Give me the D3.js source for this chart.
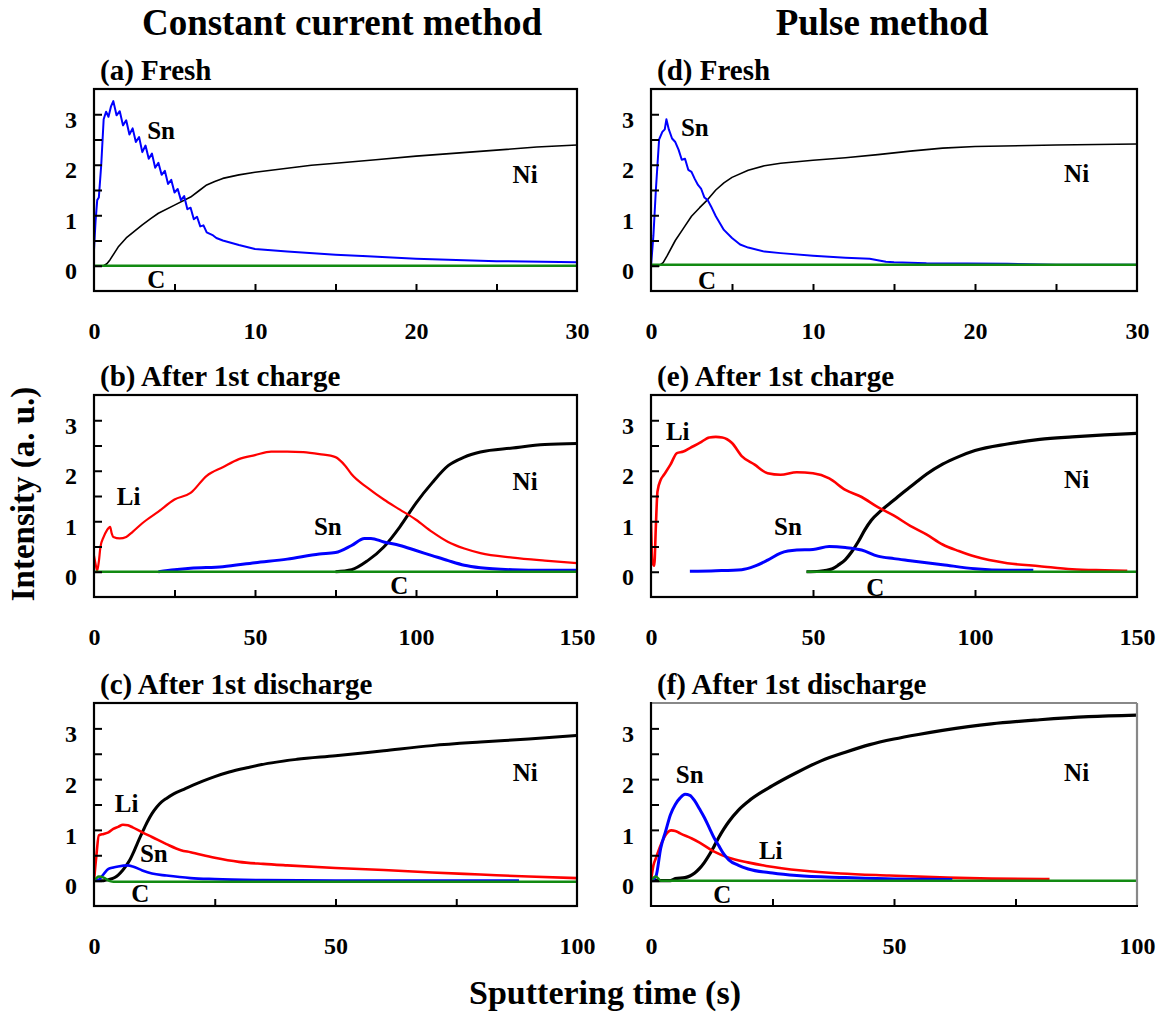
<!DOCTYPE html>
<html><head><meta charset="utf-8">
<script src="https://cdn.jsdelivr.net/npm/d3@7"></script>
<style>body{margin:0;background:#fff}svg{display:block}svg text{font-family:'Liberation Serif','Times New Roman',Times,serif !important;font-weight:bold}</style>
</head><body>
<script>
// ---------- DATA ----------
const yTicks = [0, 0.5, 1, 1.5, 2, 2.5, 3];
const yTickLabels = [0, 1, 2, 3];

// (a) Fresh — constant current
const aSn = [[0,0.32],[0.1,0.9],[0.2,1.3],[0.3,1.35],[0.45,2.0],[0.6,2.9],[0.75,3.05],[0.9,2.95],[1.05,3.15],[1.2,3.26],
 [1.4,2.98],[1.6,3.06],[1.8,2.78],[2.0,2.88],[2.2,2.60],[2.4,2.72],[2.6,2.45],[2.8,2.55],[3.0,2.25],[3.2,2.38],[3.4,2.12],
 [3.6,2.22],[3.8,1.94],[4.0,2.04],[4.2,1.80],[4.4,1.88],[4.6,1.62],[4.8,1.70],[5.0,1.45],[5.2,1.52],[5.4,1.30],[5.6,1.38],
 [5.8,1.12],[6.0,1.15],[6.2,0.92],[6.4,0.97],[6.6,0.78],[6.8,0.80],[7.0,0.66],[7.4,0.60],[7.6,0.55],[8,0.50],[9,0.41],
 [10,0.33],[12,0.28],[15,0.22],[17,0.19],[20,0.14],[22,0.12],[25,0.09],[30,0.07]];
const aNi = [[0,0],[0.6,0],[0.8,0.04],[1,0.12],[1.5,0.37],[2,0.55],[2.5,0.68],[3,0.81],[3.5,0.93],[4,1.04],[5,1.2],[6,1.36],
 [6.5,1.48],[7,1.6],[7.5,1.67],[8,1.73],[9,1.8],[10,1.85],[12,1.93],[13.5,1.99],[15,2.03],[17.5,2.1],[20,2.17],[22.5,2.23],
 [25,2.29],[27.5,2.35],[30,2.39]];
const aC = [[0,0],[30,0]];

// (b) After 1st charge — constant current
const bLi = [[0,0.32],[0.5,0.15],[1,0.02],[1.5,0.2],[2,0.49],[3,0.69],[4,0.82],[5,0.89],[5.5,0.76],[6,0.69],[8,0.66],[10,0.69],
 [12,0.79],[15,0.96],[20,1.19],[25,1.43],[30,1.56],[35,1.9],[40,2.07],[45,2.23],[50,2.31],[55,2.38],[60,2.38],[65,2.37],
 [70,2.33],[75,2.27],[78,2.1],[80,1.93],[85,1.66],[90,1.43],[95,1.23],[100,1.03],[105,0.79],[110,0.59],[115,0.46],[120,0.37],
 [130,0.28],[140,0.22],[150,0.17]];
const bSn = [[20,0],[25,0.04],[30,0.07],[40,0.1],[50,0.18],[60,0.25],[70,0.35],[75,0.38],[80,0.52],[84,0.66],[86,0.66],[90,0.59],
 [95,0.52],[100,0.42],[105,0.32],[110,0.22],[115,0.13],[120,0.08],[130,0.04],[140,0.03],[150,0.03]];
const bNi = [[75,0],[80,0.04],[85,0.22],[90,0.49],[95,0.89],[100,1.36],[105,1.76],[110,2.1],[115,2.27],[120,2.37],[130,2.45],
 [140,2.52],[150,2.54]];
const bC = [[0,0],[150,0]];

// (c) After 1st discharge — constant current
const cLi = [[0,0],[0.5,0.5],[1,0.89],[2,0.92],[3,0.95],[4,1.02],[5,1.06],[6,1.1],[7,1.09],[8,1.05],[10,0.95],[12,0.86],[15,0.72],
 [18,0.6],[20,0.56],[25,0.45],[30,0.37],[35,0.33],[40,0.3],[50,0.25],[60,0.21],[70,0.16],[80,0.12],[90,0.08],[100,0.05]];
const cSn = [[0,0],[1,0.02],[2,0.13],[3,0.23],[4,0.26],[5,0.28],[7,0.3],[8,0.28],[10,0.2],[12,0.14],[15,0.1],[20,0.05],[25,0.03],
 [35,0.01],[50,0],[88,0]];
const cNi = [[0,0],[2,0],[3,0.02],[4.3,0.06],[5,0.11],[5.9,0.2],[6.7,0.3],[7.5,0.42],[8.2,0.56],[9,0.74],[10,0.95],[11,1.15],
 [12,1.32],[13,1.45],[14,1.55],[15,1.62],[16.5,1.71],[18.6,1.8],[20.5,1.88],[22.5,1.96],[25,2.05],[28,2.14],[32,2.23],[36,2.31],
 [42,2.39],[50,2.46],[60,2.56],[70,2.66],[80,2.73],[90,2.79],[100,2.86]];
const cC = [[0,0],[0.5,0.05],[1,0.08],[2,0.06],[3,0],[4,-0.02],[100,-0.02]];

// (d) Fresh — pulse
const dSn = [[0,0],[0.15,0.6],[0.3,1.5],[0.5,2.5],[0.7,2.65],[0.85,2.7],[0.95,2.9],[1.1,2.7],[1.3,2.52],[1.5,2.45],[1.7,2.3],
 [1.9,2.1],[2.1,2.12],[2.3,1.9],[2.5,1.86],[2.7,1.72],[2.9,1.6],[3.1,1.52],[3.3,1.35],[3.5,1.3],[3.7,1.18],[4,0.98],[4.5,0.71],
 [5,0.55],[5.5,0.42],[6,0.36],[7,0.28],[8,0.25],[10,0.2],[12,0.16],[13.5,0.14],[14.5,0.08],[15,0.07],[17,0.05],[22,0.04],
 [25,0.02],[30,0.02]];
const dNi = [[0,0],[0.5,0],[0.75,0.06],[1,0.2],[1.5,0.5],[2,0.74],[2.5,0.98],[3,1.15],[3.5,1.31],[4,1.5],[4.5,1.64],[5,1.75],
 [6,1.89],[7,1.98],[8,2.03],[10,2.09],[12,2.14],[14,2.2],[16,2.27],[18,2.33],[20,2.36],[25,2.39],[30,2.41]];
const dC = [[0,0.02],[30,0.02]];

// (e) After 1st charge — pulse
const eLi = [[0,1.0],[0.4,0.2],[1,0.12],[1.5,0.9],[2,1.59],[3,1.82],[4,1.92],[6,2.12],[8,2.35],[10,2.38],[12,2.45],[15,2.55],
 [18,2.66],[20,2.67],[22,2.66],[25,2.55],[28,2.29],[32,2.12],[36,1.95],[40,1.92],[45,1.97],[50,1.95],[55,1.85],[60,1.62],
 [65,1.48],[70,1.28],[75,1.11],[80,0.91],[85,0.74],[90,0.54],[95,0.41],[100,0.30],[110,0.17],[120,0.11],[130,0.05],
 [140,0.03],[147,0.02]];
const eSn = [[12,0.01],[20,0.02],[28,0.04],[32,0.11],[36,0.23],[40,0.37],[45,0.43],[50,0.44],[55,0.5],[60,0.48],[65,0.43],
 [70,0.31],[75,0.26],[80,0.22],[90,0.14],[100,0.06],[110,0.03],[118,0.03]];
const eNi = [[48,0],[52,0.01],[56,0.06],[58,0.14],[60,0.24],[62,0.4],[64,0.6],[66,0.83],[68,1.02],[71,1.21],[75,1.42],[78,1.58],
 [82,1.78],[85,1.93],[90,2.13],[95,2.28],[100,2.4],[110,2.53],[120,2.62],[130,2.67],[140,2.71],[150,2.74]];
const eC = [[48,0],[150,0]];

// (f) After 1st discharge — pulse
const fSn = [[0,0],[1,0.08],[2,0.64],[3,0.97],[4,1.3],[5,1.5],[6,1.63],[7,1.7],[8,1.68],[9,1.57],[10,1.41],[11,1.24],[12,1.04],
 [13,0.84],[14,0.68],[15,0.52],[16,0.41],[18,0.3],[20,0.23],[25,0.15],[30,0.1],[40,0.06],[50,0.03],[62,0.02]];
const fLi = [[0,0],[0.5,0.3],[1,0.44],[2,0.7],[3,0.9],[4.2,0.99],[5,0.98],[6,0.93],[8.4,0.83],[10,0.75],[13,0.57],[16,0.45],
 [19.9,0.36],[23.7,0.29],[31,0.2],[39,0.14],[49,0.1],[61,0.06],[70,0.04],[82,0.03]];
const fNi = [[0,0],[4,0],[5,0.04],[7,0.06],[8,0.09],[9,0.15],[10,0.24],[11,0.36],[12,0.51],[13,0.68],[14,0.86],[15,1.02],[16,1.16],
 [18,1.39],[20,1.56],[25,1.87],[30,2.13],[35,2.36],[40,2.53],[45,2.68],[50,2.79],[55,2.88],[60,2.96],[70,3.09],[80,3.17],
 [90,3.23],[100,3.26]];
const fC = [[0,0],[1,0.08],[2,0],[100,0]];

// curve-label anchors in data units [text, x, y]
const aLabels = [["Sn",3.3,2.68],["Ni",26.0,1.8],["C",3.3,-0.28]];
const bLabels = [["Li",7.1,1.49],["Sn",68.3,0.89],["Ni",130,1.79],["C",92,-0.28]];
const cLabels = [["Li",4.3,1.52],["Sn",9.5,0.53],["Ni",86.7,2.13],["C",7.7,-0.26]];
const dLabels = [["Sn",1.85,2.73],["Ni",25.5,1.82],["C",2.9,-0.3]];
const eLabels = [["Li",4.6,2.78],["Sn",38,0.9],["Ni",127.5,1.83],["C",66.4,-0.32]];
const fLabels = [["Sn",5.1,2.1],["Li",22.2,0.6],["Ni",85,2.13],["C",12.8,-0.28]];

const titles = ["(a) Fresh","(b) After 1st charge","(c) After 1st discharge","(d) Fresh","(e) After 1st charge","(f) After 1st discharge"];
const xMaxes = [30,150,100,30,150,100];
const xTickMarks = [[5,10,15,20,25],[25,50,75,100,125],[25,50,75],[5,10,15,20,25],[50,100],[25,50,75]];
const xTickLabels = [[0,10,20,30],[0,50,100,150],[0,50,100],[0,10,20,30],[0,50,100,150],[0,50,100]];

// ---------- LAYOUT / STYLE ----------
const W = 1164, H = 1013;
const FONT = "'Liberation Serif','Times New Roman',Times,serif";
const COL = {Sn:"#0000ff", Ni:"#000000", Li:"#ff0000", C:"#128a12"};
const colX = [[94,577],[651,1137]];
const rowY = [[89,291],[395,597],[703,906]];

const panels = [
 {col:0,row:0,series:[["Ni",aNi,1.6],["Sn",aSn,2],["C",aC,2.5]],labels:aLabels,curve:d3.curveLinear},
 {col:0,row:1,series:[["Ni",bNi,3],["Li",bLi,2.2],["Sn",bSn,3],["C",bC,2.5]],labels:bLabels,curve:d3.curveMonotoneX},
 {col:0,row:2,series:[["Ni",cNi,3],["Li",cLi,2.6],["Sn",cSn,2.6],["C",cC,2.5]],labels:cLabels,curve:d3.curveMonotoneX},
 {col:1,row:0,series:[["Ni",dNi,1.6],["Sn",dSn,2],["C",dC,2.5]],labels:dLabels,curve:d3.curveLinear},
 {col:1,row:1,series:[["Ni",eNi,3.2],["Li",eLi,2.6],["Sn",eSn,3],["C",eC,2.5]],labels:eLabels,curve:d3.curveMonotoneX},
 {col:1,row:2,series:[["Ni",fNi,3.2],["Li",fLi,2.6],["Sn",fSn,3],["C",fC,2.5]],labels:fLabels,curve:d3.curveMonotoneX,greyFrame:true}
];

const svg = d3.select("body").append("svg").attr("width",W).attr("height",H)
  .style("font-family",FONT).style("font-weight","bold");

function styleText(sel, size){
  sel.style("font-family",FONT).style("font-weight","bold").attr("font-size",size).attr("fill","#000");
}

panels.forEach((p,i)=>{
  const [x0,x1] = colX[p.col], [y0,y1] = rowY[p.row];
  const x = d3.scaleLinear().domain([0,xMaxes[i]]).range([x0,x1]);
  const y = d3.scaleLinear().domain([-0.5,3.5]).range([y1,y0]);
  const g = svg.append("g");

  // title
  styleText(g.append("text").attr("x",x0+6).attr("y",y0-9).text(titles[i]), 29);

  // clip
  const cid = "clip"+i;
  svg.append("clipPath").attr("id",cid).append("rect").attr("x",x0).attr("y",y0).attr("width",x1-x0).attr("height",y1-y0);

  // lines
  const line = d3.line().x(d=>x(d[0])).y(d=>y(d[1])).curve(p.curve);
  const lg = g.append("g").attr("clip-path",`url(#${cid})`);
  p.series.forEach(([name,data,sw])=>{
    lg.append("path").datum(data).attr("d",line).attr("fill","none")
      .attr("stroke",COL[name]).attr("stroke-width",sw).attr("stroke-linejoin","round");
  });

  // y ticks (inward)
  const yt = g.append("g").attr("transform",`translate(${x0},0)`)
    .call(d3.axisLeft(y).tickValues(yTicks).tickSize(-8).tickFormat(""));
  yt.select(".domain").remove();
  yt.selectAll("line").attr("stroke","#000").attr("stroke-width",2);
  // y labels
  const yl = g.append("g").attr("transform",`translate(${x0},0)`)
    .call(d3.axisLeft(y).tickValues(yTickLabels).tickSize(0).tickPadding(17).tickFormat(d3.format("d")));
  yl.select(".domain").remove();
  styleText(yl.selectAll("text").attr("dy","0.55em"), 24);

  // x ticks (inward)
  const xt = g.append("g").attr("transform",`translate(0,${y1})`)
    .call(d3.axisBottom(x).tickValues(xTickMarks[i]).tickSize(-7).tickFormat(""));
  xt.select(".domain").remove();
  xt.selectAll("line").attr("stroke","#000").attr("stroke-width",2);
  // x labels
  const xl = g.append("g").attr("transform",`translate(0,${y1})`)
    .call(d3.axisBottom(x).tickValues(xTickLabels[i]).tickSize(0).tickPadding(31).tickFormat(d3.format("d")));
  xl.select(".domain").remove();
  styleText(xl.selectAll("text"), 24);

  // frame
  if (p.greyFrame) {
    g.append("line").attr("x1",x0).attr("x2",x1).attr("y1",y0).attr("y2",y0).attr("stroke","#888").attr("stroke-width",2.2);
    g.append("line").attr("x1",x1).attr("x2",x1).attr("y1",y0).attr("y2",y1).attr("stroke","#888").attr("stroke-width",2.2);
    g.append("line").attr("x1",x0).attr("x2",x0).attr("y1",y0-1).attr("y2",y1+1).attr("stroke","#000").attr("stroke-width",2.2);
    g.append("line").attr("x1",x0).attr("x2",x1+1).attr("y1",y1).attr("y2",y1).attr("stroke","#000").attr("stroke-width",2.2);
  } else {
    g.append("rect").attr("x",x0).attr("y",y0).attr("width",x1-x0).attr("height",y1-y0)
      .attr("fill","none").attr("stroke","#000").attr("stroke-width",2.2);
  }

  // curve labels
  styleText(g.selectAll("text.lbl").data(p.labels).join("text").attr("class","lbl")
    .attr("x",d=>x(d[1])).attr("y",d=>y(d[2])).attr("dominant-baseline","central")
    .text(d=>d[0]), 25);
});

// headers and axis titles
styleText(svg.append("text").attr("x",342).attr("y",35).attr("text-anchor","middle").text("Constant current method"), 37);
styleText(svg.append("text").attr("x",882).attr("y",35).attr("text-anchor","middle").text("Pulse method"), 37);
styleText(svg.append("text").attr("x",605).attr("y",1004).attr("text-anchor","middle").text("Sputtering time (s)"), 34);
styleText(svg.append("text").attr("transform","translate(34,494) rotate(-90)").attr("text-anchor","middle")
  .text("Intensity (a. u.)"), 33);
</script>
</body></html>
